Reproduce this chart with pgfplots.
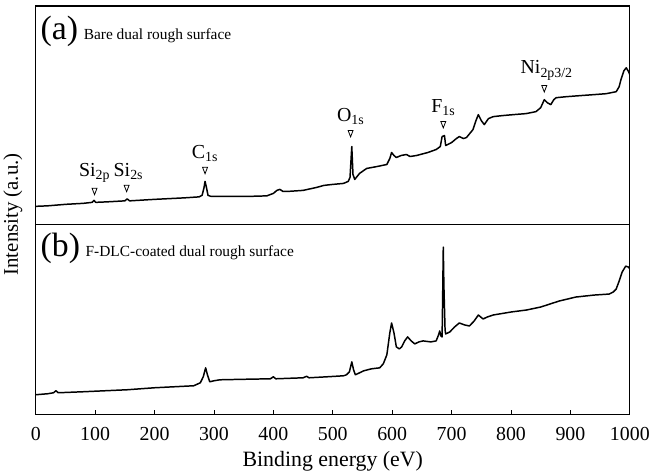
\documentclass[border=0pt]{standalone}
\usepackage{pgfplots}
\pgfplotsset{compat=1.18}
\usepackage{fontspec}
\setmainfont{Liberation Serif}

\pgfplotsset{
  xps/.style={
    scale only axis, width=596bp,
    xmin=0, xmax=1000, ymin=0,
    ytick=\empty,
    axis line style={line width=1.1pt},
    every tick/.style={black, line width=0.9pt},
    major tick length=5bp,
    tick label style={font=\fontsize{20}{22}\selectfont},
    xticklabel style={yshift=-9bp},
    /pgf/number format/assume math mode=true,
    /pgf/number format/1000 sep={},
  },
  spec/.style={black, line width=1.5pt, line join=round, mark=none},
  pk/.style={only marks, mark=triangle, mark size=3.6pt, mark options={rotate=180, xscale=0.8, yscale=1.2, line width=0.8pt, fill=white}},
}
\newcommand{\pl}[1]{\fontsize{20}{22}\selectfont #1}

\begin{document}
\begin{tikzpicture}
% (a) bare surface
\begin{axis}[xps, name=top, height=219bp, ymax=219, xtick=\empty]
  \addplot[spec] coordinates {
    (0,18) (20,18.5) (50,20) (80,21) (95,22) (98,24) (101,22) (120,22.5)
    (150,23.5) (154,25.5) (158,23.5) (200,25) (250,26.5) (275,27.5) (280,29)
    (283,36) (285,43) (287,38) (290,29) (295,28) (330,28) (360,28) (389,28.5)
    (400,31) (406,34) (411,35) (416,33) (425,33) (450,34) (473,37) (485,39)
    (500,40) (518,41) (526,43) (529,47) (532,78) (534,50) (537,45) (545,51)
    (557,56) (575,58) (591,60) (596,66) (599,72) (603,69) (607,67) (615,69)
    (624,70) (630,68) (641,69) (660,72) (674,75) (681,78) (684,88) (688,89)
    (690,79) (700,82) (708,86) (713,88) (720,86) (725,87) (736,95) (741,104)
    (745,110) (750,104) (755,100) (762,106) (770,108) (785,109) (804,110)
    (825,111) (842,113) (850,117) (856,125) (861,122) (867,120) (872,125)
    (876,127) (893,128) (915,129) (938,130) (960,131) (977,133) (982,138)
    (985,145) (990,154) (994,157) (998,153) (1000,150)};
  \addplot[pk] coordinates {(99,34) (153,37) (285,55) (530,92) (686,101) (856,137)};
  \node[anchor=south, inner sep=1.5bp] at (axis cs:99,40) {\pl{Si\textsubscript{2p}}};
  \node[anchor=south, inner sep=1.5bp] at (axis cs:156,43) {\pl{Si\textsubscript{2s}}};
  \node[anchor=south, inner sep=1.5bp] at (axis cs:285,61) {\pl{C\textsubscript{1s}}};
  \node[anchor=south, inner sep=1.5bp] at (axis cs:530,98) {\pl{O\textsubscript{1s}}};
  \node[anchor=south, inner sep=1.5bp] at (axis cs:686,107) {\pl{F\textsubscript{1s}}};
  \node[anchor=south, inner sep=1.5bp] at (axis cs:860,143) {\pl{Ni\textsubscript{2p3/2}}};
  \node[anchor=base west, inner sep=0pt] at (rel axis cs:0.008,0.845)
    {\fontsize{34}{36}\selectfont (a)\,\fontsize{15.5}{17}\selectfont Bare dual rough surface};
\end{axis}
% (b) F-DLC coated
\begin{axis}[xps, name=bot, at={(top.south west)}, anchor=north west,
    height=191bp, ymax=191, xtick={0,100,...,1000}, xtick pos=lower,
    xlabel={Binding energy (eV)},
    xlabel style={font=\fontsize{22}{24}\selectfont, yshift=-4bp}]
  \addplot[spec] coordinates {
    (0,20) (20,21) (30,22) (34,24) (38,22) (80,23) (154,25) (200,27) (266,29)
    (277,32) (282,38) (286,47) (289,40) (293,33) (300,34) (310,35) (350,35.5)
    (395,36) (400,38) (404,36) (450,37) (456,38.5) (460,37) (490,38) (518,39)
    (523,40) (528,43) (532,53) (535,45) (538,40) (552,44) (565,46) (579,47)
    (585,51) (591,60) (596,82) (599,92) (603,82) (607,68) (612,66) (616,68)
    (621,74) (626,78) (632,74) (638,71) (645,73) (652,74) (665,73) (674,74)
    (678,80) (680,84) (682,79) (684,78) (685,120) (686,168) (687,130) (689,85)
    (690,81) (697,83) (705,88) (713,92) (722,90) (730,89) (738,94) (745,100)
    (753,96) (760,98) (770,100) (800,103) (826,105) (850,108) (881,114)
    (909,118) (940,120) (965,121) (972,123) (977,126) (982,134) (987,143)
    (993,149) (998,148) (1000,146)};
  \node[anchor=base west, inner sep=0pt] at (rel axis cs:0.008,0.83)
    {\fontsize{34}{36}\selectfont (b)\,\fontsize{15.5}{17}\selectfont F-DLC-coated dual rough surface};
\end{axis}
\node[rotate=90, anchor=center, font=\fontsize{21}{23}\selectfont]
  at ([xshift=-23bp, yshift=10bp]top.south west) {Intensity (a.u.)};
\path ([yshift=6bp]top.north west) -- ([yshift=6bp]top.north east);
\end{tikzpicture}
\end{document}
